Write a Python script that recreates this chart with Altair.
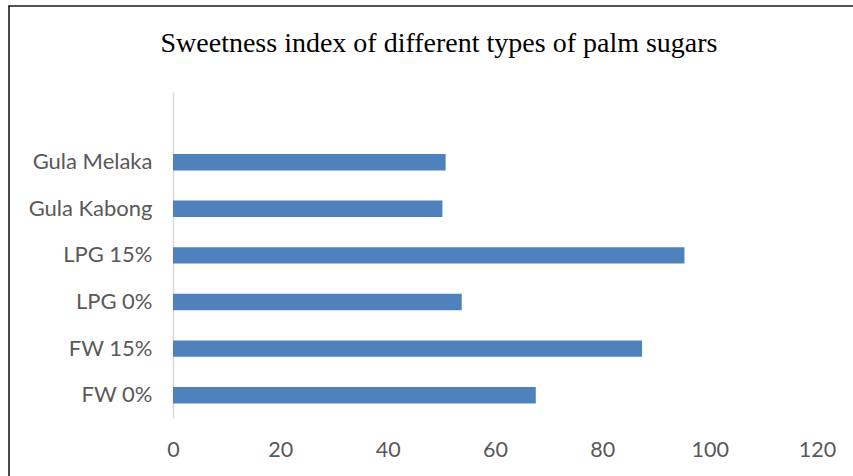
import altair as alt
import pandas as pd

categories = ["Gula Melaka", "Gula Kabong", "LPG 15%", "LPG 0%", "FW 15%", "FW 0%"]
values = [50.8, 50.2, 95.3, 53.8, 87.4, 67.6]
x_ticks = [0, 20, 40, 60, 80, 100, 120]
title_text = "Sweetness index of different types of palm sugars"

df = pd.DataFrame({"type": categories, "index": values})

LABEL_FONT = "Lato"
LABEL_COLOR = "#595959"

bars = alt.Chart(df).mark_bar(color="#4F81BD").encode(
    x=alt.X("index:Q",
            scale=alt.Scale(domain=[0, 120], nice=False),
            axis=alt.Axis(values=x_ticks, title=None, grid=False, domain=False, ticks=False,
                          labelFont=LABEL_FONT, labelFontSize=21.5, labelColor=LABEL_COLOR,
                          labelPadding=21, labelFlush=False, labelOverlap=False)),
    y=alt.Y("type:N", sort=categories,
            scale=alt.Scale(paddingInner=0.647, paddingOuter=0.82, align=0.81),
            axis=alt.Axis(title=None, ticks=False, domain=True, domainColor="#d9d9d9",
                          domainWidth=1.5, labelFont=LABEL_FONT, labelFontSize=22,
                          labelColor=LABEL_COLOR, labelPadding=21)),
)

one = pd.DataFrame({"t": [title_text]})
left_border = alt.Chart(one).mark_rule(color="#1a1a1a", strokeWidth=1.6).encode(
    x=alt.value(-164), y=alt.value(-86), y2=alt.value(400))
top_border = alt.Chart(one).mark_rule(color="#1a1a1a", strokeWidth=1.6).encode(
    x=alt.value(-164.8), x2=alt.value(700), y=alt.value(-86))
title = alt.Chart(one).mark_text(font="Liberation Serif", fontSize=28, color="#000000",
                                 align="center", baseline="alphabetic").encode(
    text="t:N", x=alt.value(266), y=alt.value(-40))

chart = alt.layer(bars, left_border, top_border, title).properties(
    width=644, height=326,
    autosize=alt.AutoSizeParams(type="none"),
    padding={"left": 173, "top": 92, "right": 36, "bottom": 58},
    background="white",
).configure_view(strokeWidth=0, stroke=None)

chart.save("out.html", embed_options={"renderer": "svg", "actions": False})
